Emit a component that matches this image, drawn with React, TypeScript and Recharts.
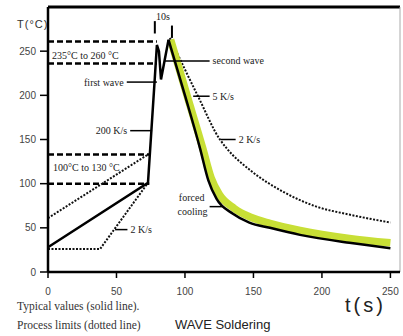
import { LineChart, Line, XAxis, YAxis, ReferenceLine, ReferenceDot } from 'recharts'

type Pt = { x: number; y: number }

const X_TICKS = [0, 50, 100, 150, 200, 250]
const Y_TICKS = [0, 50, 100, 150, 200, 250]

// typical profile (solid line): preheat ramp, first + second wave
const typicalHeat: Pt[] = [
  { x: 0, y: 28 },
  { x: 73, y: 101 },
  { x: 78, y: 220 },
  { x: 79.5, y: 257 },
  { x: 81, y: 250 },
  { x: 82.5, y: 218 },
  { x: 88, y: 263 },
]

// typical cooling (solid line)
const typicalCool: Pt[] = [
  { x: 88, y: 263 },
  { x: 100, y: 200 },
  { x: 111, y: 140 },
  { x: 117, y: 104 },
  { x: 123, y: 83 },
  { x: 135, y: 66 },
  { x: 147, y: 56 },
  { x: 162, y: 50 },
  { x: 184, y: 42 },
  { x: 220, y: 33 },
  { x: 250, y: 27 },
]

// forced cooling band (green)
const forcedCooling: Pt[] = [
  { x: 89.5, y: 263 },
  { x: 101.5, y: 200 },
  { x: 113, y: 140 },
  { x: 119, y: 107 },
  { x: 125, y: 88 },
  { x: 136, y: 72 },
  { x: 148, y: 62 },
  { x: 162, y: 55 },
  { x: 184, y: 47 },
  { x: 220, y: 38 },
  { x: 250, y: 33 },
]

// process limits (dotted lines)
const upperPreheat: Pt[] = [
  { x: 0, y: 61 },
  { x: 73, y: 133 },
]
const lowerPreheat: Pt[] = [
  { x: 0, y: 26 },
  { x: 38, y: 26 },
  { x: 73, y: 101 },
]
const slowCooling: Pt[] = [
  { x: 89, y: 265 },
  { x: 109.5, y: 199 },
  { x: 125.5, y: 150 },
  { x: 131, y: 139 },
  { x: 147, y: 116 },
  { x: 171.5, y: 91 },
  { x: 196, y: 74 },
  { x: 220, y: 65 },
  { x: 250, y: 56 },
]

// dashed temperature windows
const peakBand = [236, 261]
const peakBandEnd = 79.5
const preheatBand = [100, 133]
const preheatBandEnd = 74

// "10s" markers
const tenSecMarks = [
  { x: 78, y1: 270, y2: 284 },
  { x: 90.5, y1: 265, y2: 279 },
]

// leader lines with labels
const leaders = [
  { text: 'first wave', y: 215, x1: 57.5, x2: 79.5, side: 'left' },
  { text: '200 K/s', y: 160, x1: 60, x2: 76, side: 'left' },
  { text: 'second wave', y: 239, x1: 85, x2: 118, side: 'right' },
  { text: '5 K/s', y: 199, x1: 106, x2: 118, side: 'right' },
  { text: '2 K/s', y: 150, x1: 126, x2: 137, side: 'right' },
  { text: '2 K/s', y: 48, x1: 49, x2: 58, side: 'right' },
]

const SERIF = '"Liberation Serif", "DejaVu Serif", serif'
const SANS = '"Liberation Sans", Arial, sans-serif'

const noteStyle = { fontSize: 10, fontFamily: SERIF, fill: '#222' }

function ForcedLabel(props: any) {
  const { x, y } = props.viewBox
  return (
    <g>
      <text x={x - 18} y={y - 8} textAnchor="middle" dominantBaseline="middle" {...noteStyle}>
        forced
      </text>
      <text x={x - 17} y={y + 6} textAnchor="middle" dominantBaseline="middle" {...noteStyle}>
        cooling
      </text>
    </g>
  )
}

export default function App() {
  return (
    <div style={{ position: 'absolute', left: 0, top: 0, width: 403, height: 336, background: '#fff' }}>
      <LineChart width={403} height={336} margin={{ top: 7, right: 3, bottom: 44, left: 0 }}>
        <XAxis
          dataKey="x"
          type="number"
          domain={[0, 257]}
          ticks={X_TICKS}
          height={20}
          tickSize={6}
          tickMargin={10}
          axisLine={{ stroke: '#000', strokeWidth: 2.5 }}
          tickLine={{ stroke: '#000', strokeWidth: 1.5 }}
          tick={{ fontSize: 10, fill: '#444', fontFamily: SANS }}
        />
        <YAxis
          dataKey="y"
          type="number"
          domain={[0, 300]}
          ticks={Y_TICKS}
          width={48}
          tickSize={8}
          tickMargin={4}
          axisLine={{ stroke: '#000', strokeWidth: 2.5 }}
          tickLine={{ stroke: '#000', strokeWidth: 1.5 }}
          tick={{ fontSize: 10, fill: '#444', fontFamily: SANS }}
        />

        {/* frame */}
        <ReferenceLine y={300} stroke="#000" strokeWidth={3} />
        <ReferenceLine x={257} stroke="#aaa" strokeWidth={1} />

        {peakBand.map((v) => (
          <ReferenceLine
            key={'pb' + v}
            segment={[{ x: 0, y: v }, { x: peakBandEnd, y: v }]}
            stroke="#000"
            strokeWidth={2.5}
            strokeDasharray="6 3"
          />
        ))}
        {preheatBand.map((v) => (
          <ReferenceLine
            key={'hb' + v}
            segment={[{ x: 0, y: v }, { x: preheatBandEnd, y: v }]}
            stroke="#000"
            strokeWidth={2.5}
            strokeDasharray="6 3"
          />
        ))}

        {tenSecMarks.map((m) => (
          <ReferenceLine
            key={'ts' + m.x}
            segment={[{ x: m.x, y: m.y1 }, { x: m.x, y: m.y2 }]}
            stroke="#000"
            strokeWidth={2}
          />
        ))}

        <Line data={upperPreheat} dataKey="y" type="linear" stroke="#111" strokeWidth={2} strokeDasharray="2 1.5" dot={false} activeDot={false} isAnimationActive={false} />
        <Line data={lowerPreheat} dataKey="y" type="linear" stroke="#111" strokeWidth={2} strokeDasharray="2 1.5" dot={false} activeDot={false} isAnimationActive={false} />
        <Line data={slowCooling} dataKey="y" type="monotone" stroke="#111" strokeWidth={2} strokeDasharray="2 1.5" dot={false} activeDot={false} isAnimationActive={false} />

        <Line data={forcedCooling} dataKey="y" type="monotone" stroke="#c8df36" strokeWidth={7.5} dot={false} activeDot={false} isAnimationActive={false} />
        <Line data={typicalHeat} dataKey="y" type="linear" stroke="#000" strokeWidth={2.5} dot={false} activeDot={false} isAnimationActive={false} />
        <Line data={typicalCool} dataKey="y" type="monotone" stroke="#000" strokeWidth={2.5} dot={false} activeDot={false} isAnimationActive={false} />

        {leaders.map((l) => (
          <ReferenceLine
            key={l.text + l.y}
            segment={[{ x: l.x1, y: l.y }, { x: l.x2, y: l.y }]}
            stroke="#000"
            strokeWidth={1.5}
            label={{ value: l.text, position: l.side, offset: 3, ...noteStyle }}
          />
        ))}
        <ReferenceLine
          segment={[{ x: 118, y: 74 }, { x: 128, y: 74 }]}
          stroke="#000"
          strokeWidth={1.5}
          label={(p: any) => <ForcedLabel {...p} />}
        />

        <ReferenceDot x={84} y={289} r={0} fill="none" stroke="none" label={{ value: '10s', position: 'center', ...noteStyle }} />
        <ReferenceDot x={0} y={245} r={0} fill="none" stroke="none" label={{ value: '235°C to 260 °C', position: 'right', offset: 4, ...noteStyle }} />
        <ReferenceDot x={0} y={118} r={0} fill="none" stroke="none" label={{ value: '100°C to 130 °C', position: 'right', offset: 5, ...noteStyle }} />
      </LineChart>

      <div style={{ position: 'absolute', left: 17, top: 18, fontFamily: SANS, fontSize: 11, letterSpacing: 1, color: '#333' }}>T(°C)</div>
      <div style={{ position: 'absolute', left: 345, top: 294, fontFamily: SANS, fontSize: 20, letterSpacing: 3, color: '#222' }}>t(s)</div>
      <div style={{ position: 'absolute', left: 17, top: 300, fontFamily: SERIF, fontSize: 11.5, color: '#333' }}>Typical values (solid line).</div>
      <div style={{ position: 'absolute', left: 17, top: 319, fontFamily: SERIF, fontSize: 11.5, color: '#333' }}>Process limits (dotted line)</div>
      <div style={{ position: 'absolute', left: 175, top: 317, fontFamily: SANS, fontSize: 13, color: '#222' }}>WAVE Soldering</div>
    </div>
  )
}
